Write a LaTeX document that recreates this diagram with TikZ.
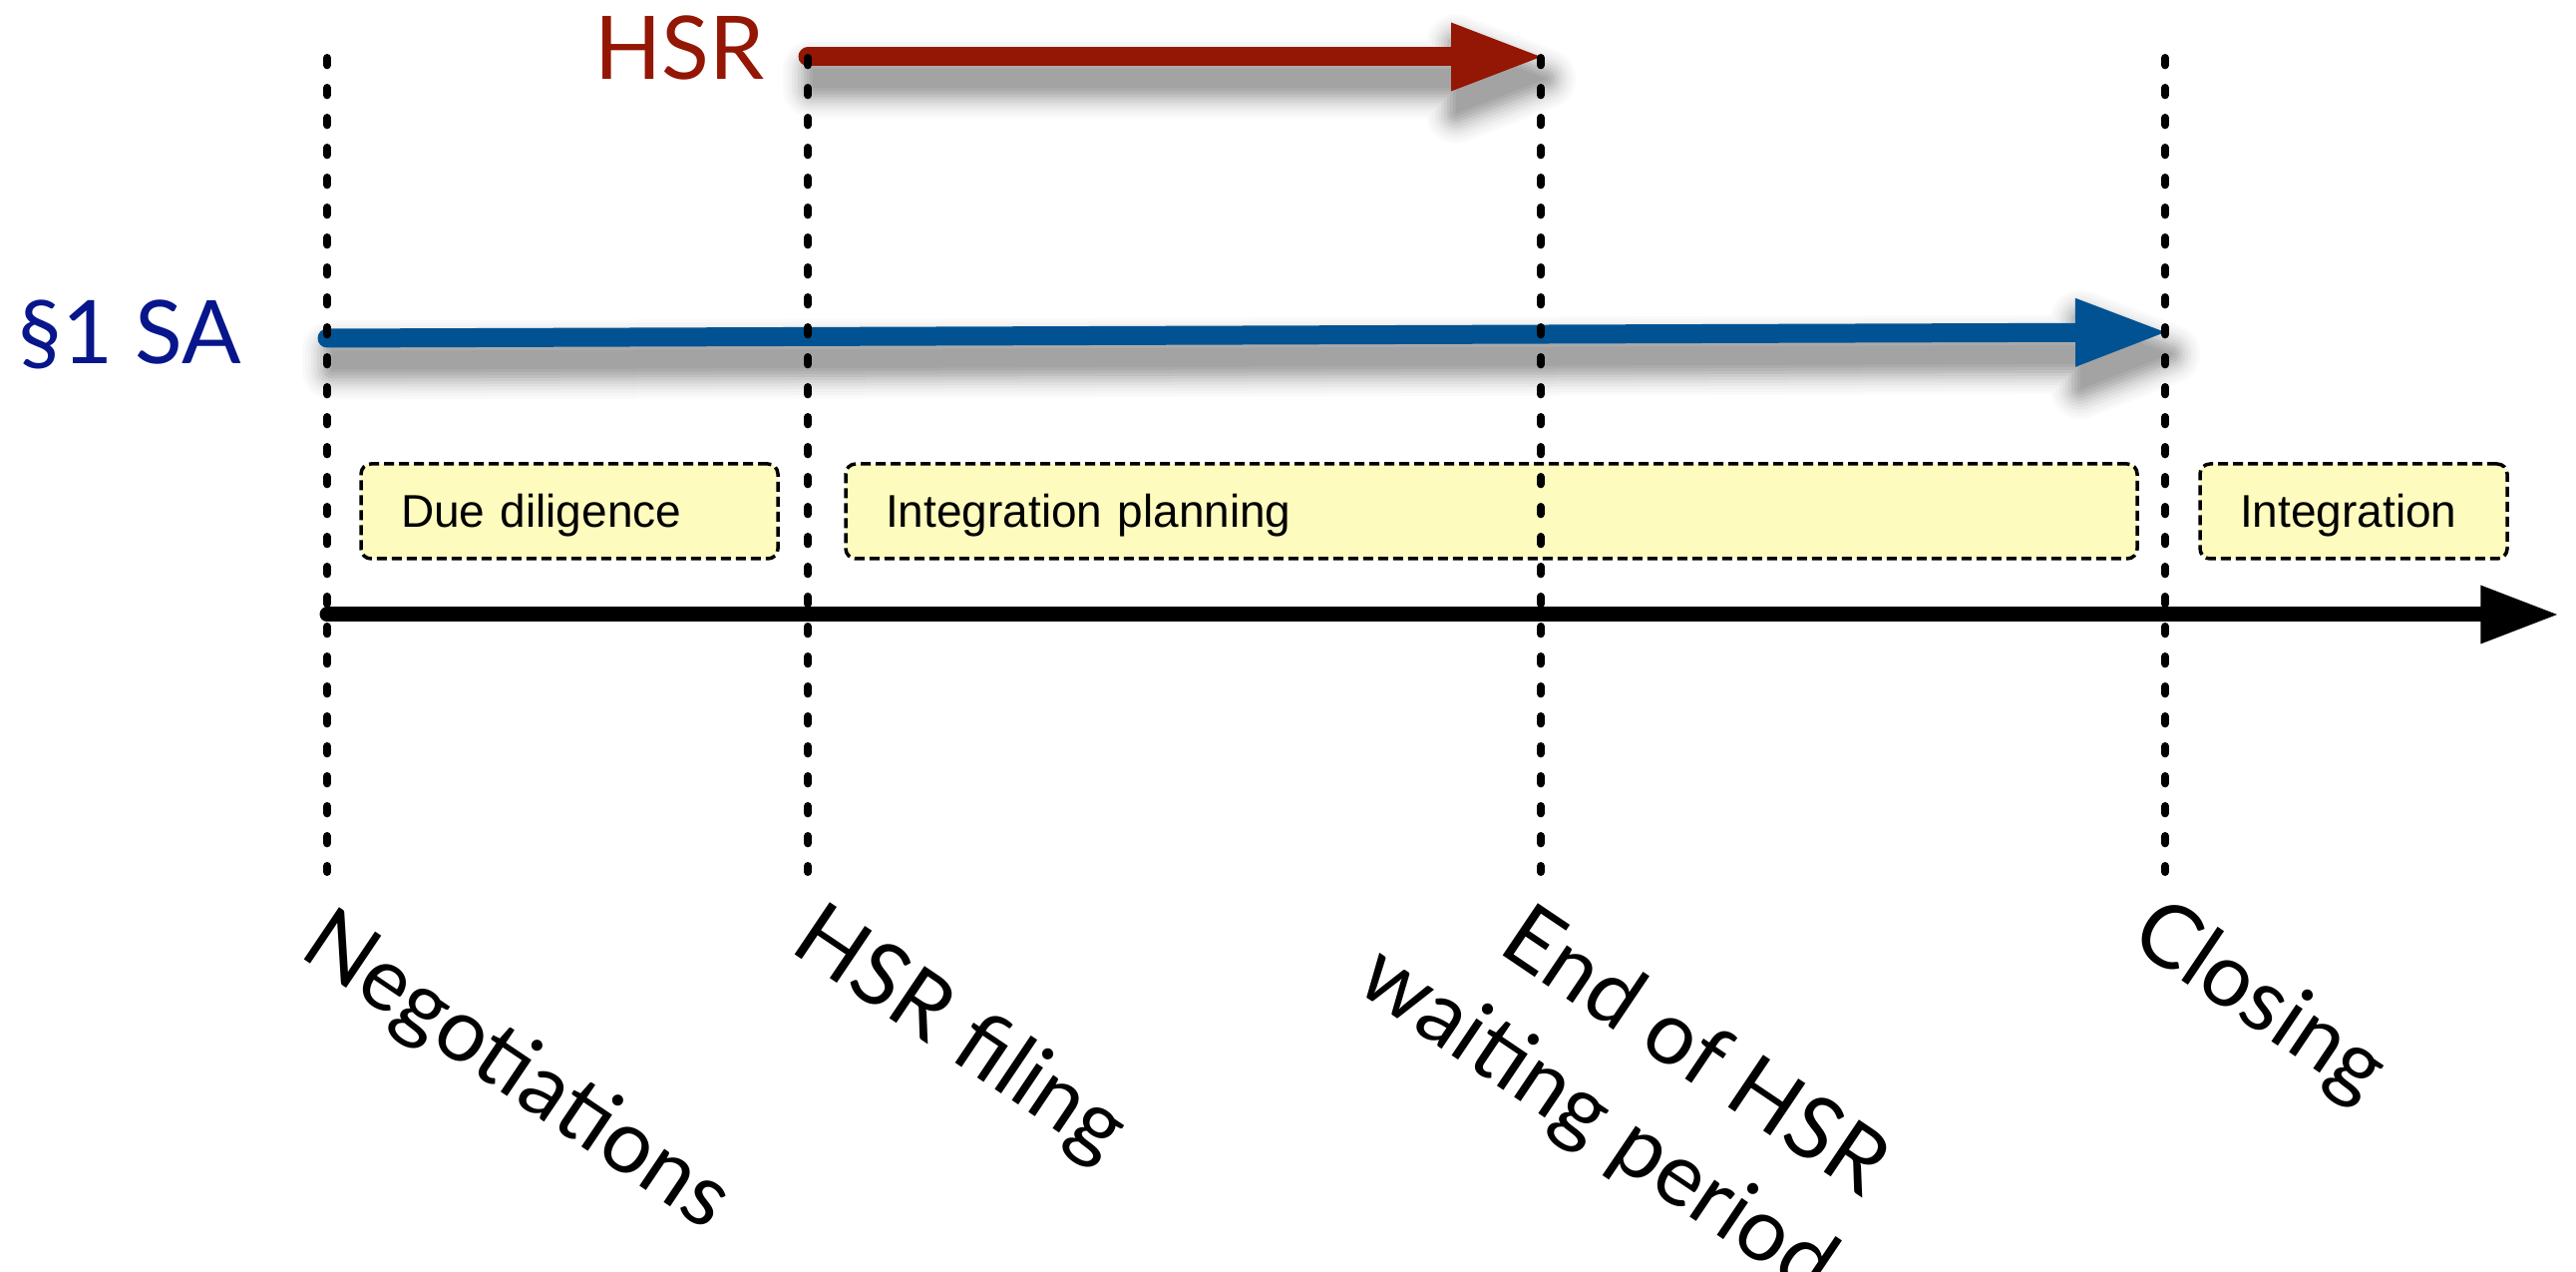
\documentclass[tikz,border=0pt]{standalone}
\usepackage{fontspec}
\setmainfont{Lato}
\newfontfamily\boxfont{Liberation Sans}
\usetikzlibrary{arrows.meta,calc}

\definecolor{hsrred}{RGB}{148,22,4}
\definecolor{satext}{RGB}{8,22,140}
\definecolor{sablue}{RGB}{0,82,147}
\definecolor{phasefill}{RGB}{254,251,190}

% soft drop shadow: layered strokes, widest and lightest first
\newcommand\softshadow[1]{%
  \foreach \i/\p in {10/2,9/4,8/6,7/9,6/12,5/16,4/20,3/25,2/29,1/33}{%
    \pgfmathsetmacro\w{\i*1.8}%
    \filldraw[draw=black!\p, fill=black!\p, line width=\w pt, line join=round] #1;%
  }%
  \fill[black!36] #1;%
}

\begin{document}
\begin{tikzpicture}[x=0.3pt,y=-0.3pt,
  guide/.style={line width=2.4pt, line cap=round, dash pattern=on 2.2pt off 6.8pt},
  phase/.style={draw=black, fill=phasefill, line width=1.05pt,
    dash pattern=on 3pt off 1.5pt, rounded corners=3pt,
    minimum height=28.5pt, inner xsep=12pt, inner ysep=0pt,
    text height=10.1pt, text depth=0.6pt, align=left,
    font=\boxfont\fontsize{13.8}{16}\selectfont},
  event/.style={inner sep=0pt, anchor=base west, rotate=-34,
    font=\fontsize{26.4}{31.7}\selectfont},
  track/.style={inner sep=0pt, anchor=base west, font=\fontsize{26.4}{31.7}\selectfont},
  span/.style={line width=5.7pt, line cap=round,
    -{Triangle[length=27pt,width=20.7pt,line width=0pt]}},
  axis/.style={line width=4.5pt, line cap=round,
    -{Triangle[length=23pt,width=17.7pt,line width=0pt]}},
]
\useasboundingbox (0,0) rectangle (2583,1275);
\fill[white] (0,0) rectangle (2583,1275);

% milestone guides
\coordinate (negtop) at (328,58);  \coordinate (negbot) at (328,874);
\coordinate (filtop) at (810,58);  \coordinate (filbot) at (810,874);
\coordinate (endtop) at (1545,58); \coordinate (endbot) at (1545,874);
\coordinate (clotop) at (2171,58); \coordinate (clobot) at (2171,874);

% arrow end points
\coordinate (hsrA) at (810,57);  \coordinate (hsrB) at (1545,57);
\coordinate (saA) at (328,339);  \coordinate (saB) at (2171,333);
\coordinate (axA) at (328,616);  \coordinate (axB) at (2564,616);

% shadows under the two span arrows
\begin{scope}[shift={(5,22)}]
  \softshadow{(810,47.5) -- (1455,47.5) -- (1455,22.5) -- (1545,57) -- (1455,91.5) -- (1455,66.5) -- (810,66.5) -- cycle}
  \softshadow{(328,329.5) -- (2081,323.8) -- (2081,298.8) -- (2171,333) -- (2081,367.8) -- (2081,342.8) -- (328,348.5) -- cycle}
\end{scope}

% phases
\node[phase, text width=101.4pt] (dd) at (571,512.5) {Due diligence};
\node[phase, text width=364.5pt] (plan) at (1495.5,512.5) {Integration planning};
\node[phase, text width=68.4pt] (integ) at (2360,512.5) {Integration};

% spans and time axis
\draw[span, hsrred] (hsrA) -- (hsrB);
\draw[span, sablue] (saA) -- (saB);
\draw[axis, black] (axA) -- (axB);

% guides on top
\draw[guide] (negtop) -- (negbot);
\draw[guide] (filtop) -- (filbot);
\draw[guide] (endtop) -- (endbot);
\draw[guide] (clotop) -- (clobot);

% track labels
\node[track, text=hsrred] (hsrlabel) at (596,80) {HSR};
\node[track, text=satext] (salabel) at (18,365) {§1 SA};

% milestone labels
\node[event] (neg) at (298,957) {Negotiations};
\node[event] (filing) at (790,952) {HSR filing};
\node[event] (endl1) at (1500,953) {End of HSR};
\node[event, anchor=base] (endl2) at ($(endl1.base)+(124:112)+(214:42)$) {waiting period};
\node[event] (close) at (2133,946) {Closing};
\end{tikzpicture}
\end{document}
